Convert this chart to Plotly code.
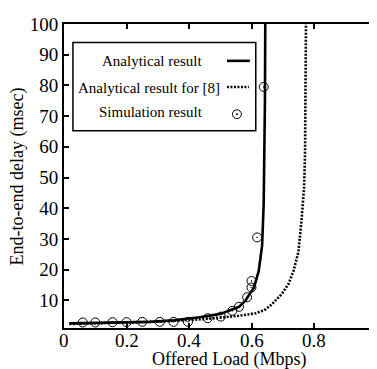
import plotly.graph_objects as go

# ---- data ----
analytic_x = [0.017, 0.1, 0.2, 0.275, 0.35, 0.433, 0.5, 0.538, 0.559, 0.58, 0.607, 0.622, 0.633, 0.638, 0.641, 0.642, 0.643]
analytic_y = [2.5, 2.6, 2.8, 3.0, 3.5, 4.5, 5.6, 7.0, 7.9, 10.0, 14.2, 19.5, 27.9, 41.6, 57.4, 75.0, 100.0]

ref8_x = [0.017, 0.1, 0.2, 0.3, 0.4, 0.485, 0.559, 0.612, 0.64, 0.664, 0.696, 0.717, 0.733, 0.749, 0.759, 0.767, 0.770, 0.772, 0.773]
ref8_y = [2.3, 2.5, 2.8, 3.1, 3.6, 4.2, 5.0, 5.8, 6.8, 8.7, 12.1, 15.3, 19.5, 25.8, 36.3, 46.8, 57.4, 75.0, 100.0]

sim_x = [0.06, 0.10, 0.155, 0.20, 0.25, 0.306, 0.35, 0.396, 0.459, 0.501, 0.538, 0.559, 0.585, 0.599, 0.599, 0.617, 0.638]
sim_y = [2.8, 2.8, 2.9, 2.9, 3.0, 3.0, 3.0, 3.0, 4.2, 4.7, 6.6, 7.9, 11.0, 14.2, 16.3, 30.5, 79.5]

x_tickvals = [0, 0.2, 0.4, 0.6, 0.8, 1.0]
x_ticktext = ["0", "0.2", "0.4", "0.6", "0.8", "1"]
y_tickvals = [10, 20, 30, 40, 50, 60, 70, 80, 90, 100]
y_ticktext = ["10", "20", "30", "40", "50", "60", "70", "80", "90", "100"]

legend_labels = ["Analytical result", "Analytical result for [8]", "Simulation result"]
x_title = "Offered Load (Mbps)"
y_title = "End-to-end delay (msec)"

FONT = "Liberation Serif"
OFF = 8                      # page body margin offset of the figure in the window
W, H = 377, 369
# plot area in window pixels: x 64..379, y 15..328.5
L, R, T, B = 64 - OFF, W - (379 - OFF), 15 - OFF, H - (328.5 - OFF)
PW, PH = W - L - R, H - T - B


def px(x):
    return (x - OFF - L) / PW


def py(y):
    return (H - B - (y - OFF)) / PH


fig = go.Figure()
fig.add_trace(go.Scatter(x=analytic_x, y=analytic_y, mode="lines",
                         line=dict(color="black", width=2.6), showlegend=False))
fig.add_trace(go.Scatter(x=ref8_x, y=ref8_y, mode="lines",
                         line=dict(color="black", width=2.6, dash="2px,1.5px"), showlegend=False))
fig.add_trace(go.Scatter(x=sim_x, y=sim_y, mode="markers",
                         marker=dict(symbol="circle-open-dot", size=9, color="black",
                                     line=dict(width=1, color="black")),
                         showlegend=False))

# ---- hand-drawn legend box (gnuplot style: text left, sample right) ----
cx, cy, r = 238, 108, 4.5
shapes = [
    dict(type="rect", xref="paper", yref="paper", x0=px(73), x1=px(257), y0=py(125), y1=py(34),
         line=dict(color="black", width=1.5), fillcolor="white", layer="above"),
    dict(type="line", xref="paper", yref="paper", x0=px(228), x1=px(251), y0=py(53), y1=py(53),
         line=dict(color="black", width=2.6), layer="above"),
    dict(type="line", xref="paper", yref="paper", x0=px(228), x1=px(250), y0=py(80), y1=py(80),
         line=dict(color="black", width=2.6, dash="2px,1.5px"), layer="above"),
    dict(type="circle", xref="paper", yref="paper", x0=px(cx - r), x1=px(cx + r),
         y0=py(cy + r), y1=py(cy - r), line=dict(color="black", width=1), layer="above"),
    dict(type="circle", xref="paper", yref="paper", x0=px(cx - 0.8), x1=px(cx + 0.8),
         y0=py(cy + 0.8), y1=py(cy - 0.8), line=dict(color="black", width=0.5),
         fillcolor="black", layer="above"),
]
fig.update_layout(shapes=shapes)

annots = []
for lab, xr, yc in zip(legend_labels, [205, 223, 206], [53, 81, 106]):
    annots.append(dict(text=lab, xref="paper", yref="paper", x=px(xr), y=py(yc),
                       xanchor="right", yanchor="middle", showarrow=False,
                       font=dict(family=FONT, size=15, color="black")))
# x tick labels (placed close under the axis, gnuplot style)
for v, t in zip(x_tickvals, x_ticktext):
    annots.append(dict(text=t, xref="x", yref="paper", x=v, y=py(341),
                       xanchor="center", yanchor="middle", showarrow=False,
                       font=dict(family=FONT, size=19, color="black")))
annots.append(dict(text=x_title, xref="paper", yref="paper", x=px(231), y=py(361),
                   xanchor="center", yanchor="middle", showarrow=False,
                   font=dict(family=FONT, size=18, color="black")))
annots.append(dict(text=y_title, xref="paper", yref="paper", x=px(17), y=py(172),
                   xanchor="center", yanchor="middle", showarrow=False, textangle=-90,
                   font=dict(family=FONT, size=18, color="black")))
fig.update_layout(annotations=annots)

axis_common = dict(showline=True, linecolor="black", linewidth=2, mirror="ticks",
                   ticks="inside", ticklen=5, tickwidth=1.5, tickcolor="black",
                   showgrid=False, zeroline=False, ticklabeloverflow="allow",
                   tickfont=dict(family=FONT, size=19, color="black"))

fig.update_layout(
    width=W, height=H,
    margin=dict(l=L, r=R, t=T, b=B),
    plot_bgcolor="white", paper_bgcolor="white",
    xaxis=dict(range=[0, 1], tickvals=x_tickvals, ticktext=[""] * len(x_tickvals), **axis_common),
    yaxis=dict(range=[1, 100], tickvals=y_tickvals, ticktext=y_ticktext, **axis_common),
)

fig.write_html("out.html")
